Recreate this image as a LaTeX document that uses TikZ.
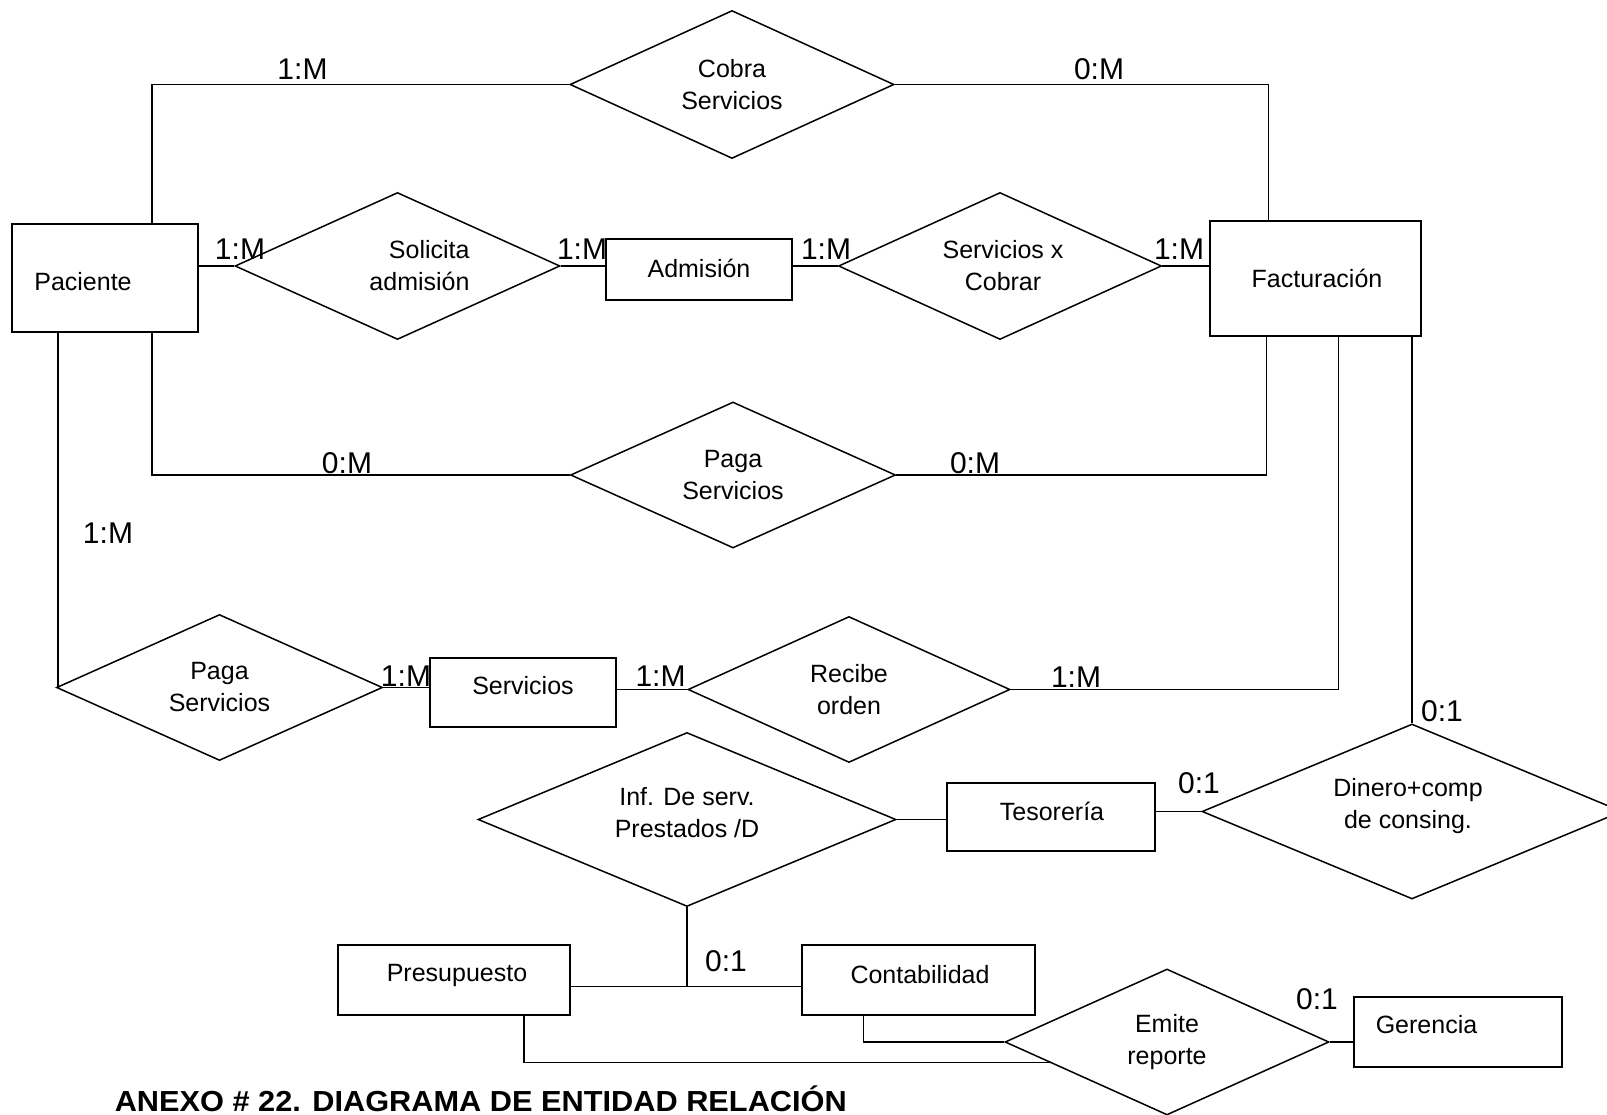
\documentclass[tikz,border=0pt]{standalone}
\usepackage{fontspec}
\setmainfont{Liberation Sans}
\usepackage{graphicx}
\usetikzlibrary{shapes.geometric}

\begin{document}
\begin{tikzpicture}[x=1pt,y=-1pt,line width=1.5pt,
  entidad/.style={draw, rectangle, inner sep=0pt},
  relacion/.style={draw, diamond, inner sep=0pt},
  texto/.style={font=\fontsize{25}{32}\selectfont, align=center, inner sep=0pt},
  card/.style={font=\fontsize{30}{34}\selectfont, anchor=base, inner sep=0pt}]
\path[use as bounding box, fill=white] (0,0) rectangle (1607,1115);
% entidades
\node[entidad, minimum width=186pt, minimum height=108pt,
  label={[texto, xshift=-22pt, yshift=-4pt]center:Paciente}] (pac) at (105,278) {};
\node[entidad, minimum width=186pt, minimum height=61pt,
  label={[texto, yshift=1pt]center:Admisión}] (adm) at (699,269.5) {};
\node[entidad, minimum width=211pt, minimum height=115pt,
  label={[texto, xshift=1.5pt]center:Facturación}] (fac) at (1315.5,278.5) {};
\node[entidad, minimum width=186pt, minimum height=69pt,
  label={[texto, yshift=6.5pt]center:Servicios}] (serv) at (523,692.5) {};
\node[entidad, minimum width=208pt, minimum height=68pt,
  label={[texto, xshift=1pt, yshift=6pt]center:Tesorería}] (tes) at (1051,817) {};
\node[entidad, minimum width=232pt, minimum height=70pt,
  label={[texto, xshift=3pt, yshift=5pt]center:Presupuesto}] (pre) at (454,980) {};
\node[entidad, minimum width=233pt, minimum height=70pt,
  label={[texto, xshift=1.5pt, yshift=5pt]center:Contabilidad}] (con) at (918.5,980) {};
\node[entidad, minimum width=208pt, minimum height=70pt,
  label={[texto, xshift=-31.5pt, yshift=7.5pt]center:Gerencia}] (ger) at (1458,1032) {};
% relaciones
\node[relacion, minimum width=324pt, minimum height=148pt,
  label={[texto]center:{Cobra\\Servicios}}] (cob) at (732,84.5) {};
\node[relacion, minimum width=325pt, minimum height=147pt,
  label={[texto, align=right, xshift=22pt]center:{Solicita\\admisión}}] (sol) at (397.5,266) {};
\node[relacion, minimum width=323pt, minimum height=147pt,
  label={[texto, xshift=3pt]center:{Servicios x\\Cobrar}}] (sxc) at (1000,266) {};
\node[relacion, minimum width=325pt, minimum height=146pt,
  label={[texto]center:{Paga\\Servicios}}] (pag1) at (733,475) {};
\node[relacion, minimum width=326pt, minimum height=146pt,
  label={[texto]center:{Paga\\Servicios}}] (pag2) at (219.5,687.5) {};
\node[relacion, minimum width=322pt, minimum height=146pt,
  label={[texto]center:{Recibe\\orden}}] (rec) at (849,689.5) {};
\node[relacion, minimum width=418pt, minimum height=174pt,
  label={[texto, yshift=7pt]center:{Inf. De serv.\\Prestados /D}}] (inf) at (687,819.5) {};
\node[relacion, minimum width=420pt, minimum height=175pt,
  label={[texto, xshift=-4pt, yshift=5pt]center:{Dinero+comp\\de consing.}}] (din) at (1412,811.5) {};
\node[relacion, minimum width=324pt, minimum height=146pt,
  label={[texto]center:{Emite\\reporte}}] (emi) at (1167,1042) {};
% conexiones
\draw ([xshift=47pt]pac.north) |- (cob.west);
\draw (cob.east) -| ([xshift=-47pt]fac.north);
\draw (pac.east |- sol.west) -- (sol.west);
\draw (sol.east) -- (sol.east -| adm.west);
\draw (adm.east |- sxc.west) -- (sxc.west);
\draw (sxc.east) -- (sxc.east -| fac.west);
\draw ([xshift=47pt]pac.south) |- (pag1.west);
\draw (pag1.east) -| ([xshift=-49pt]fac.south);
\draw ([xshift=-47pt]pac.south) |- (pag2.west);
\draw (pag2.east) -- (pag2.east -| serv.west);
\draw (serv.east |- rec.west) -- (rec.west);
\draw (rec.east) -| ([xshift=23pt]fac.south);
\draw (din.north |- fac.south) -- (din.north);
\draw (din.west) -- (din.west -| tes.east);
\draw (inf.east) -- (inf.east -| tes.west);
\path ([yshift=-6.5pt]pre.east) coordinate (prej);
\draw (prej) -- (prej -| con.west);
\draw (inf.south) -- (inf.south |- prej);
\draw ([xshift=70pt]pre.south) |- (emi.190);
\draw ([xshift=-55pt]con.south) |- (emi.west);
\draw (emi.east) -- (emi.east -| ger.west);
% cardinalidades
\node[card] (c1) at (302.5,80) {1:M};
\node[card] (c2) at (1099,80) {0:M};
\node[card] (c3) at (240,259.5) {1:M};
\node[card] (c4) at (582,259.5) {1:M};
\node[card] (c5) at (826,259.5) {1:M};
\node[card] (c6) at (1179,259.5) {1:M};
\node[card] (c7) at (347,473) {0:M};
\node[card] (c8) at (975,473) {0:M};
\node[card] (c9) at (108,543.5) {1:M};
\node[card] (c10) at (406,686) {1:M};
\node[card] (c11) at (660.5,686) {1:M};
\node[card] (c12) at (1076,687) {1:M};
\node[card] (c13) at (1442,721) {0:1};
\node[card] (c14) at (1199,793.5) {0:1};
\node[card] (c15) at (726,971) {0:1};
\node[card] (c16) at (1317,1009.5) {0:1};
% titulo
\node[anchor=base west, inner sep=0pt, font=\bfseries\fontsize{29}{31}\selectfont] (titulo)
  at (114,1111.5) {\scalebox{1.06}[1]{ANEXO \# 22. DIAGRAMA DE ENTIDAD RELACIÓN}};
\end{tikzpicture}
\end{document}
